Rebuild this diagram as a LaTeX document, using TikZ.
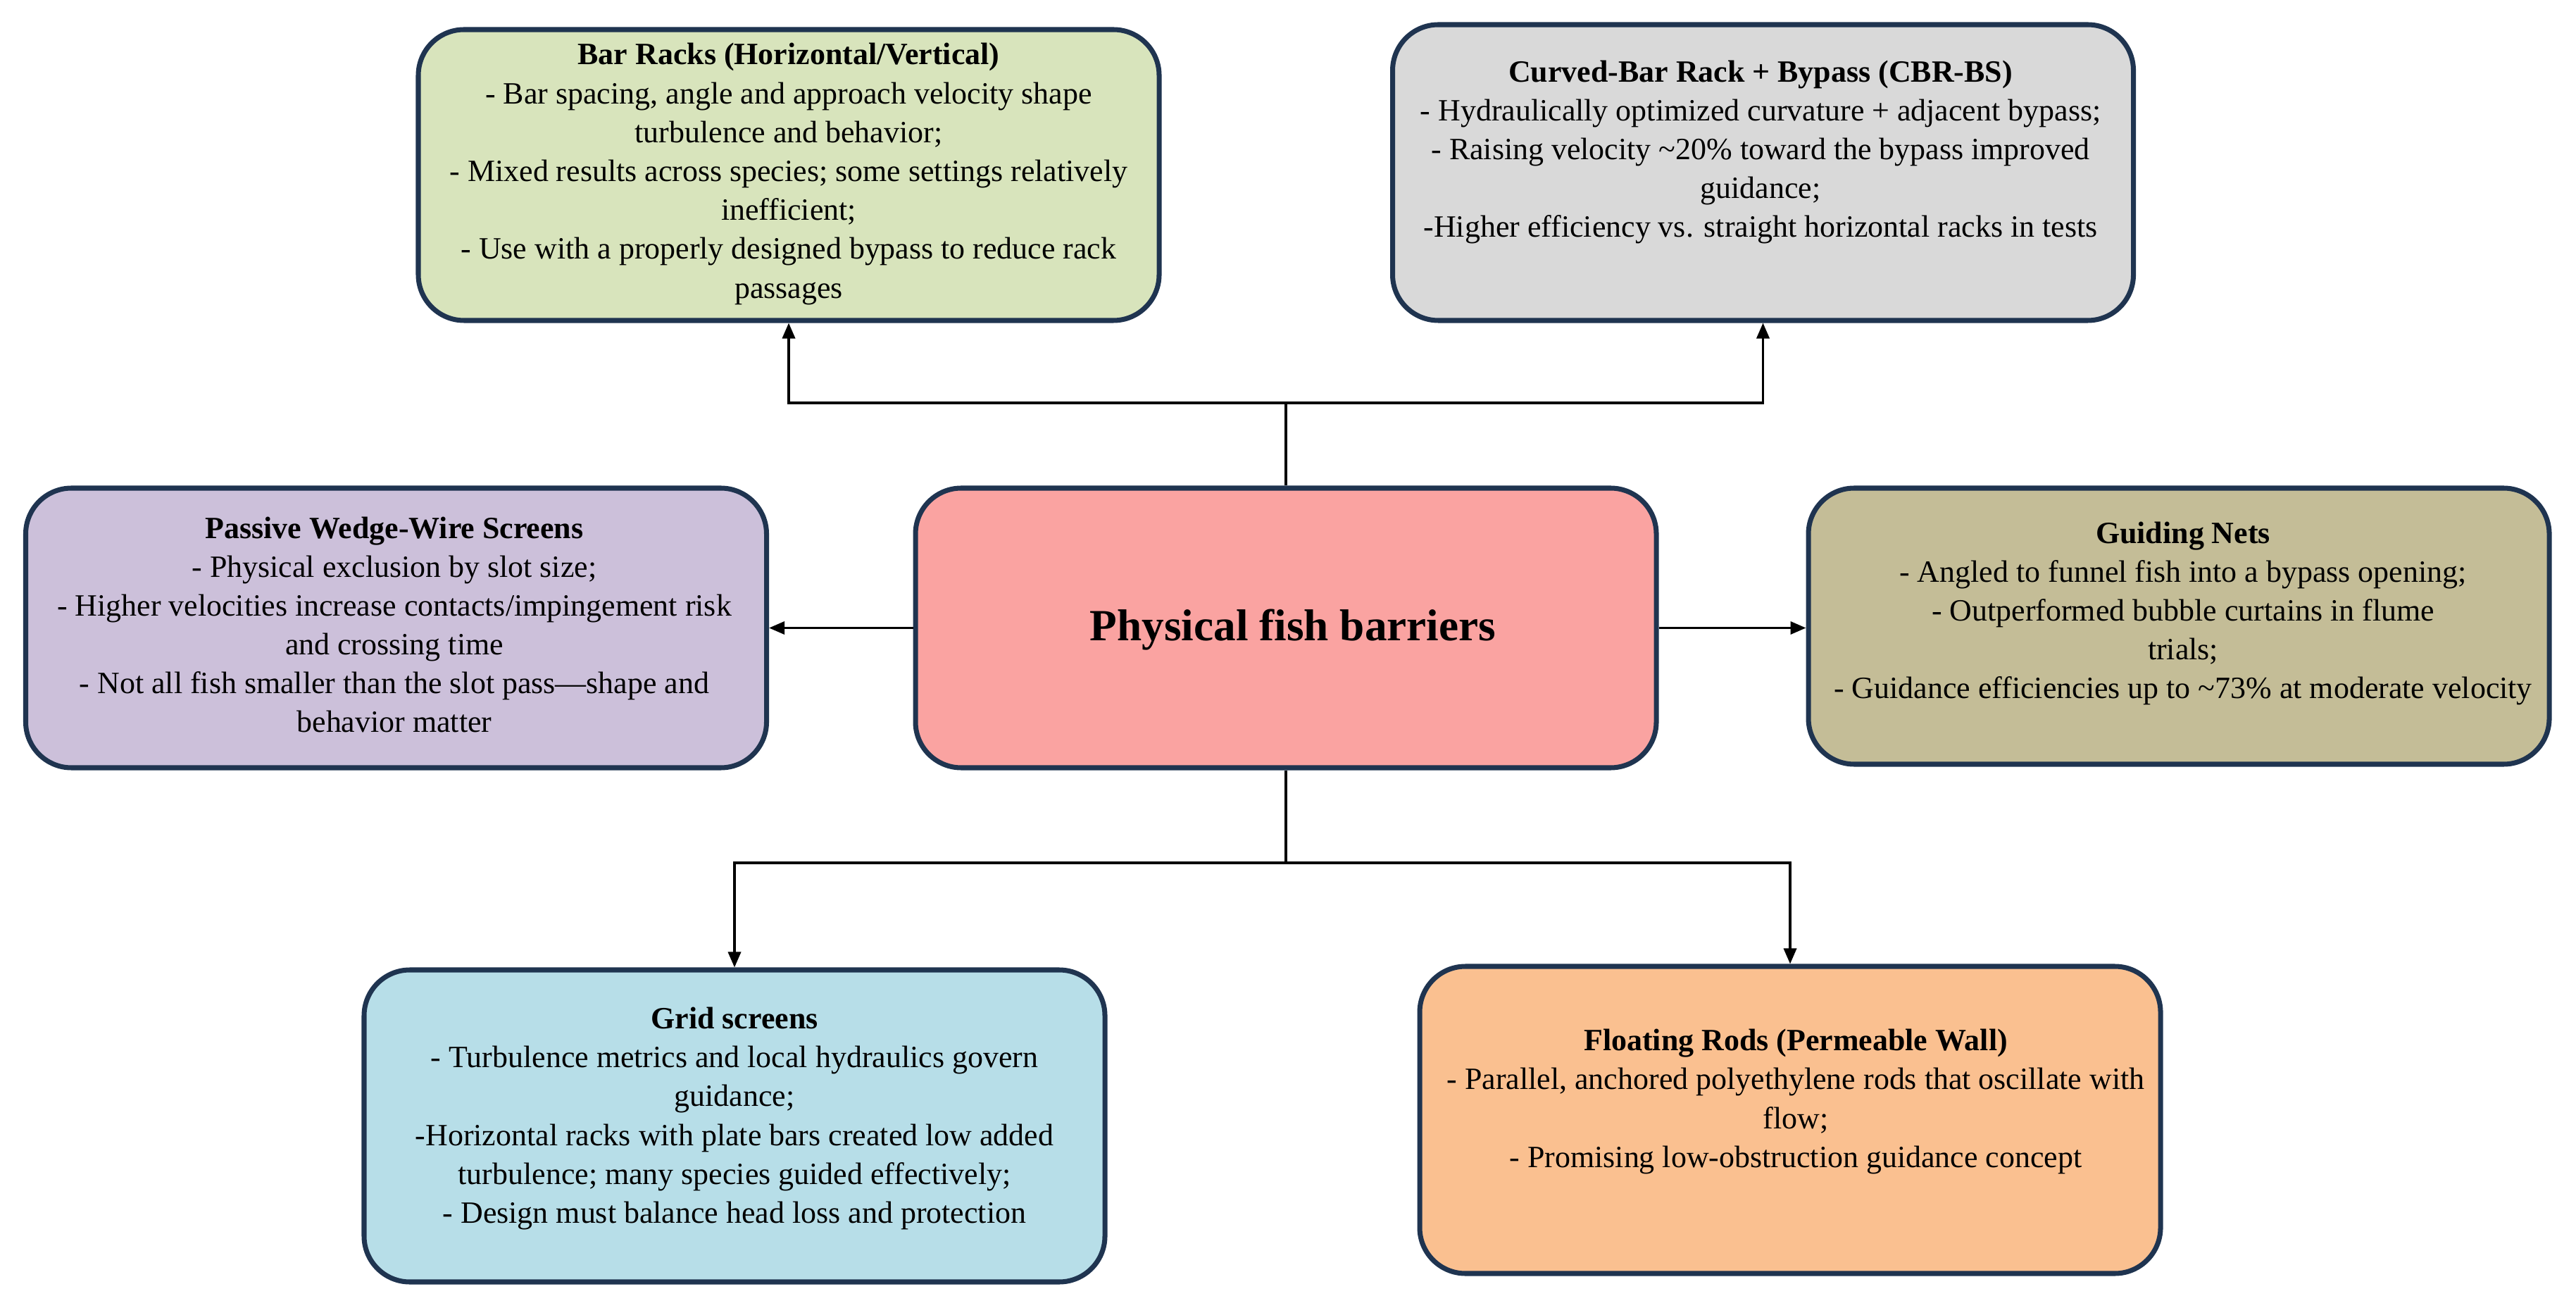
\documentclass[tikz,border=0pt]{standalone}
\usepackage{fontspec}
\setmainfont{Liberation Serif}
\usetikzlibrary{arrows.meta}

\definecolor{edge}{HTML}{1F3450}
\definecolor{barfill}{HTML}{D8E4BC}
\definecolor{cbrfill}{HTML}{D9D9D9}
\definecolor{wedgefill}{HTML}{CCC0DA}
\definecolor{mainfill}{HTML}{FAA3A1}
\definecolor{netfill}{HTML}{C4BD97}
\definecolor{gridfill}{HTML}{B7DEE8}
\definecolor{rodfill}{HTML}{FAC090}

\begin{document}
\begin{tikzpicture}[
  box/.style={draw=edge,line width=2pt,rounded corners=0.65cm,minimum width=10.52cm},
  txt/.style={align=center,font=\fontsize{12.5}{15.7}\selectfont,inner sep=0pt},
  link/.style={line width=1pt},
  arr/.style={line width=1pt,-{Triangle[length=0.22cm,width=0.18cm]}}]
\useasboundingbox (0,0) rectangle (36.58,-18.57);

\node[box,fill=barfill,minimum height=4.13cm] (bar) at (11.20,-2.485) {};
\node[box,fill=cbrfill,minimum height=4.20cm] (cbr) at (25.035,-2.45) {};
\node[box,fill=wedgefill,minimum height=3.97cm] (wedge) at (5.625,-8.915) {};
\node[box,fill=mainfill,minimum height=3.97cm] (main) at (18.26,-8.915) {};
\node[box,fill=netfill,minimum height=3.92cm] (nets) at (30.94,-8.89) {};
\node[box,fill=gridfill,minimum height=4.43cm] (grid) at (10.43,-15.985) {};
\node[box,fill=rodfill,minimum height=4.36cm] (rods) at (25.42,-15.90) {};

\node[txt] (barT) at (11.20,-2.47) {\textbf{Bar Racks (Horizontal/Vertical)}\\
- Bar spacing, angle and approach velocity shape\\
turbulence and behavior;\\
- Mixed results across species; some settings relatively\\
inefficient;\\
- Use with a properly designed bypass to reduce rack\\
passages};
\node[txt] (cbrT) at (25.0,-2.16) {\textbf{Curved-Bar Rack + Bypass (CBR-BS)}\\
- Hydraulically optimized curvature + adjacent bypass;\\
- Raising velocity \textasciitilde20\% toward the bypass improved\\
guidance;\\
-Higher efficiency vs. straight horizontal racks in tests};
\node[txt] (wedgeT) at (5.6,-8.87) {\textbf{Passive Wedge-Wire Screens}\\
- Physical exclusion by slot size;\\
- Higher velocities increase contacts/impingement risk\\
and crossing time\\
- Not all fish smaller than the slot pass—shape and\\
behavior matter};
\node[txt,font=\fontsize{18}{22}\selectfont\bfseries] (mainT) at (18.36,-8.94) {Physical fish barriers};
\node[txt] (netsT) at (31.0,-8.71) {\textbf{Guiding Nets}\\
- Angled to funnel fish into a bypass opening;\\
- Outperformed bubble curtains in flume\\
trials;\\
- Guidance efficiencies up to \textasciitilde73\% at moderate velocity};
\node[txt] (gridT) at (10.43,-15.88) {\textbf{Grid screens}\\
- Turbulence metrics and local hydraulics govern\\
guidance;\\
-Horizontal racks with plate bars created low added\\
turbulence; many species guided effectively;\\
- Design must balance head loss and protection};
\node[txt] (rodsT) at (25.5,-15.64) {\textbf{Floating Rods (Permeable Wall)}\\
- Parallel, anchored polyethylene rods that oscillate with\\
flow;\\
- Promising low-obstruction guidance concept};

% connectors
\coordinate (topJ) at (18.26,-5.72);
\coordinate (botJ) at (18.26,-12.25);
\draw[link] (main.north) -- (topJ);
\draw[arr] (topJ) -| (bar.south);
\draw[arr] (topJ) -| (cbr.south);
\draw[link] (main.south) -- (botJ);
\draw[arr] (botJ) -| (grid.north);
\draw[arr] (botJ) -| (rods.north);
\draw[arr] (main.west) -- (wedge.east);
\draw[arr] (main.east) -- (main.east -| nets.west);
\end{tikzpicture}
\end{document}
